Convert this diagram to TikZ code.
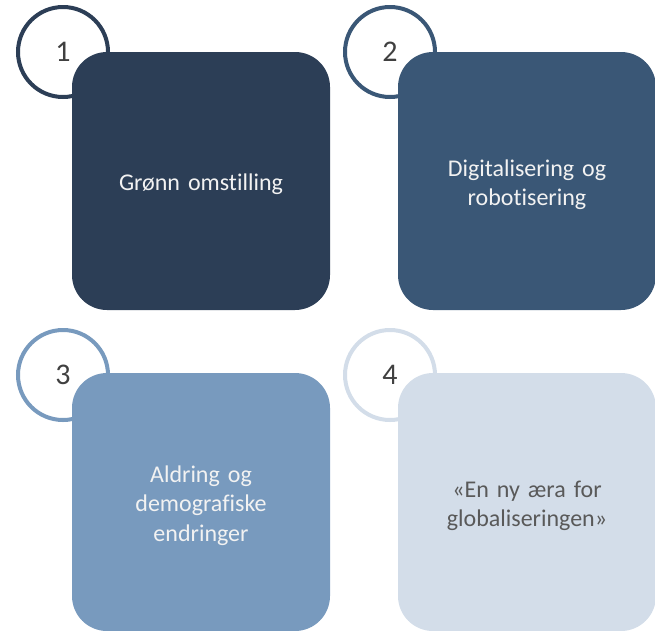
\documentclass[tikz,border=0pt]{standalone}
\usepackage{fontspec}
\setmainfont{Carlito}[Ligatures=NoCommon]
\usepackage{tikz}
\definecolor{tileone}{RGB}{44,62,86}
\definecolor{tiletwo}{RGB}{58,87,118}
\definecolor{tilethree}{RGB}{120,154,190}
\definecolor{tilefour}{RGB}{211,221,233}
\definecolor{numgray}{RGB}{64,64,64}
\definecolor{textgray}{RGB}{89,89,89}
\definecolor{textlight}{RGB}{242,242,242}
\tikzset{
  numring/.style={circle, draw=#1, line width=4pt, fill=white, minimum size=90pt, inner sep=0pt,
    text=numgray, font=\fontsize{30}{36}\selectfont},
  tile/.style={rectangle, rounded corners=35pt, fill=#1, minimum width=258pt, minimum height=258pt,
    inner sep=0pt},
  tiletext/.style={text=#1, text width=230pt, align=center, inner sep=0pt,
    font=\fontsize{24}{29.3}\selectfont}
}

\begin{document}
\begin{tikzpicture}[x=1pt,y=-1pt]
			%%%%% START %%%%%
			
			\useasboundingbox (0,0) rectangle (655,630);
			
			\node[numring=tileone] (ring1) at (63, 52) {1};
			\node[numring=tiletwo] (ring2) at (390, 52) {2};
			\node[numring=tilethree] (ring3) at (63, 375) {3};
			\node[numring=tilefour] (ring4) at (390, 375) {4};
			
			\node[tile=tileone] (tile1) at (201, 181) {};
			\node[tile=tiletwo] (tile2) at (527, 181) {};
			\node[tile=tilethree] (tile3) at (201, 502) {};
			\node[tile=tilefour] (tile4) at (527, 502) {};
			
			\node[tiletext=textlight] (label1) at ([yshift=-3.5pt]tile1.center) {Grønn omstilling};
			\node[tiletext=textlight] (label2) at ([yshift=-3.5pt]tile2.center) {Digitalisering og\\robotisering};
			\node[tiletext=textlight] (label3) at ([yshift=-3.5pt]tile3.center) {Aldring og\\demografiske\\endringer};
			\node[tiletext=textgray] (label4) at ([yshift=-3.5pt]tile4.center) {«En ny æra for\\globaliseringen»};
			
			%%%%% END %%%%%
		\end{tikzpicture}
\end{document}
